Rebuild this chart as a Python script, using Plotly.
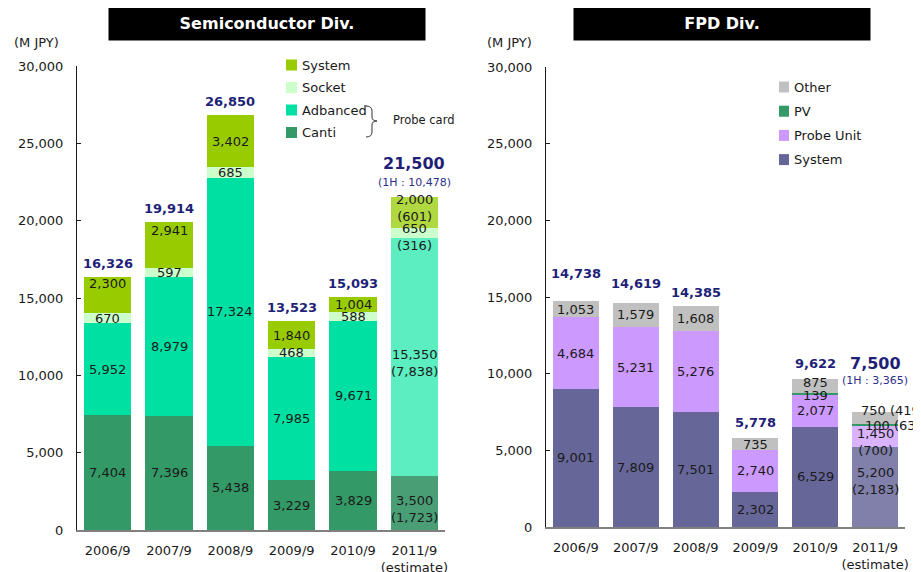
import plotly.graph_objects as go

W, H = 921, 572
OFF = 8  # page body margin shifts the figure by 8px

years = ["2006/9", "2007/9", "2008/9", "2009/9", "2010/9", "2011/9<br>(estimate)"]

# Semiconductor Div. (M JPY), bottom to top
semi_names = ["Canti", "Adbanced", "Socket", "System"]
semi_canti = [7404, 7396, 5438, 3229, 3829, 3500]
semi_adbanced = [5952, 8979, 17324, 7985, 9671, 15350]
semi_socket = [670, 597, 685, 468, 588, 650]
semi_system = [2300, 2941, 3402, 1840, 1004, 2000]
semi_totals = [16326, 19914, 26850, 13523, 15093, 21500]
semi_1h = [1723, 7838, 316, 601]
semi_1h_total = 10478

# FPD Div. (M JPY), bottom to top
fpd_names = ["System", "Probe Unit", "PV", "Other"]
fpd_system = [9001, 7809, 7501, 2302, 6529, 5200]
fpd_probe = [4684, 5231, 5276, 2740, 2077, 1450]
fpd_pv = [0, 0, 0, 0, 139, 100]
fpd_other = [1053, 1579, 1608, 735, 875, 750]
fpd_totals = [14738, 14619, 14385, 5778, 9622, 7500]
fpd_1h = [2183, 700, 63, 419]
fpd_1h_total = 3365

semi_colors = ["#339966", "#00E0A3", "#CCFFCC", "#99CC00"]
semi_est_colors = ["#4A9E76", "#5CEDC0", "#CCFFCC", "#B0D840"]
fpd_colors = ["#666699", "#CC99FF", "#339966", "#C0C0C0"]
fpd_est_colors = ["#8080AA", "#D9B3FF", "#339966", "#C0C0C0"]

NAVY = "#1F1F78"
FONT = "DejaVu Sans"


def px(x):
    return (x - OFF) / W


def py(y):
    return 1 - (y - OFF) / H


fig = go.Figure()
annotations = []
shapes = []


def add_panel(xa, ya, names, series, colors, est_colors, totals, h1, h1_total,
              label_shift, total_shift, est_shift):
    base = [0] * len(years)
    last = len(years) - 1
    for i, (name, vals) in enumerate(zip(names, series)):
        cols = [colors[i]] * last + [est_colors[i]]
        fig.add_trace(go.Bar(
            x=years, y=vals, name=name, marker=dict(color=cols, line=dict(width=0)),
            xaxis=xa, yaxis=ya, showlegend=False,
        ))
        for j, v in enumerate(vals):
            if v == 0:
                continue
            xs, ys, wrap = label_shift.get((i, j), (0, 0, True))
            txt = f"{v:,}"
            if j == last:
                txt += ("<br>" if wrap else " ") + f"({h1[i]:,})"
            annotations.append(dict(
                x=years[j], y=base[j] + v / 2, xref=xa, yref=ya,
                text=txt, showarrow=False, xshift=xs, yshift=ys,
                font=dict(family=FONT, size=13, color="#1a1a1a"),
            ))
            base[j] += v
    for j, t in enumerate(totals):
        if j == last:
            annotations.append(dict(
                x=years[j], y=t, xref=xa, yref=ya, yanchor="bottom",
                text=f"<b>{t:,}</b>", showarrow=False, yshift=est_shift[0],
                font=dict(family=FONT, size=16, color=NAVY),
            ))
            annotations.append(dict(
                x=years[j], y=t, xref=xa, yref=ya, yanchor="bottom",
                text=f"(1H : {h1_total:,})", showarrow=False, yshift=est_shift[1],
                font=dict(family=FONT, size=11, color="#2E2E8A"),
            ))
        else:
            annotations.append(dict(
                x=years[j], y=t, xref=xa, yref=ya, yanchor="bottom",
                text=f"<b>{t:,}</b>", showarrow=False, yshift=total_shift[j],
                font=dict(family=FONT, size=13, color=NAVY),
            ))


add_panel("x", "y", semi_names,
          [semi_canti, semi_adbanced, semi_socket, semi_system],
          semi_colors, semi_est_colors, semi_totals, semi_1h, semi_1h_total,
          {(3, 0): (0, 12, True), (3, 1): (0, 14, True), (0, 5): (0, -6, True),
           (2, 5): (0, -4, True), (3, 5): (0, 5, True), (1, 5): (0, -6, True)},
          [4, 4, 4, 4, 4], (22, 6))

add_panel("x2", "y2", fpd_names,
          [fpd_system, fpd_probe, fpd_pv, fpd_other],
          fpd_colors, fpd_est_colors, fpd_totals, fpd_1h, fpd_1h_total,
          {(3, 4): (0, 4, True), (2, 4): (0, -2, True),
           (3, 5): (18, 7, False), (2, 5): (18, -1, False),
           (1, 5): (0, -6, True), (0, 5): (0, 6, True)},
          [18, 10, 4, 6, 6], (37, 23))

# panel titles
for cx, w, title in [(267, 316, "Semiconductor Div."), (722, 296, "FPD Div.")]:
    annotations.append(dict(
        x=px(cx), y=py(23.5), xref="paper", yref="paper", showarrow=False,
        xanchor="center", yanchor="middle",
        text=f"<b>{title}</b>", bgcolor="black", width=w, height=33, borderpad=0,
        font=dict(family=FONT, size=16, color="white"),
    ))

for x in [36, 509]:
    annotations.append(dict(
        x=px(x), y=py(43), xref="paper", yref="paper", showarrow=False,
        xanchor="center", yanchor="middle",
        text="(M JPY)", font=dict(family=FONT, size=13, color="#1a1a1a"),
    ))

# legends drawn by hand (swatch + text)
for k, (name, col) in enumerate(zip(reversed(semi_names), reversed(semi_colors))):
    yc = 65 + k * 22.5
    shapes.append(dict(type="rect", xref="paper", yref="paper",
                       x0=px(286), x1=px(297), y0=py(yc - 5.5), y1=py(yc + 5.5),
                       fillcolor=col, line=dict(width=0)))
    annotations.append(dict(x=px(300), y=py(yc), xref="paper", yref="paper",
                            xanchor="left", yanchor="middle", showarrow=False, text=name,
                            font=dict(family=FONT, size=13, color="#1a1a1a")))

for k, (name, col) in enumerate(zip(reversed(fpd_names), reversed(fpd_colors))):
    yc = 87 + k * 24.2
    shapes.append(dict(type="rect", xref="paper", yref="paper",
                       x0=px(779), x1=px(789), y0=py(yc - 5.5), y1=py(yc + 5.5),
                       fillcolor=col, line=dict(width=0)))
    annotations.append(dict(x=px(792), y=py(yc), xref="paper", yref="paper",
                            xanchor="left", yanchor="middle", showarrow=False, text=name,
                            font=dict(family=FONT, size=13, color="#1a1a1a")))

# "Probe card" brace
brace_pts = [("M", 366, 106), ("Q", 372, 106), ("", 372, 111), ("L", 372, 117),
             ("Q", 372, 121), ("", 377, 121), ("Q", 372, 121), ("", 372, 125),
             ("L", 372, 132), ("Q", 372, 137), ("", 366, 137)]
path = " ".join(f"{c}{px(x):.5f},{py(y):.5f}" for c, x, y in brace_pts)
shapes.append(dict(type="path", xref="paper", yref="paper", path=path,
                   line=dict(color="#333333", width=1)))
annotations.append(dict(x=px(391), y=py(120), xref="paper", yref="paper",
                        xanchor="left", yanchor="middle", showarrow=False, text="Probe card",
                        font=dict(family=FONT, size=11.5, color="#1a1a1a")))

xcommon = dict(type="category", range=[-0.5, 5.5], showline=True, linecolor="#808080",
               linewidth=2, ticks="", showgrid=False, tickangle=0, automargin=False,
               tickfont=dict(family=FONT, size=13, color="#1a1a1a"),
               ticklabelstandoff=7, fixedrange=True)
ycommon = dict(range=[0, 30000], showline=True, linecolor="#1a1a1a", linewidth=1,
               ticks="inside", ticklen=4, tickcolor="#1a1a1a", showgrid=False,
               tickvals=[0, 5000, 10000, 15000, 20000, 25000, 30000], tickformat=",",
               tickfont=dict(family=FONT, size=13, color="#1a1a1a"),
               ticklabelstandoff=10, zeroline=False, automargin=False)

fig.update_layout(
    width=W, height=H, margin=dict(l=0, r=0, t=0, b=0, autoexpand=False),
    paper_bgcolor="white", plot_bgcolor="white",
    barmode="stack", bargap=0.23, showlegend=False,
    xaxis=dict(domain=[px(77), px(445)], anchor="y", **xcommon),
    yaxis=dict(domain=[py(530), py(66)], anchor="x", **ycommon),
    xaxis2=dict(domain=[px(546), px(905)], anchor="y2", **xcommon),
    yaxis2=dict(domain=[py(527), py(67)], anchor="x2", **ycommon),
    annotations=annotations, shapes=shapes,
)

fig.write_html("out.html", config={"responsive": False})
